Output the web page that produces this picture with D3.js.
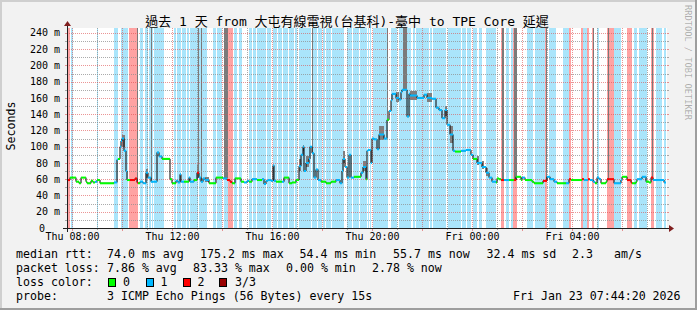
<!DOCTYPE html>
<html>
<head>
<meta charset="utf-8">
<script src="https://cdn.jsdelivr.net/npm/d3@7"></script>
<style>
  body { margin: 0; background: #f2f2f2; }
  svg { display: block; }
  text { font-family: "DejaVu Sans Mono", "Noto Sans CJK TC", monospace; fill: #000; }
</style>
</head>
<body>
<svg id="chart" width="697" height="310"></svg>
<script>
// ---------- data ----------
// one step = one pixel column = 144 s, 600 steps = 24 h
const startTime = new Date(2026, 0, 22, 7, 48, 0);
const stepSec = 144;
const stepCount = 600;
const yMax = 246;

const titleText = "過去 1 天 from 大屯有線電視(台基科)-臺中 to TPE Core 延遲";
const yLabel = "Seconds";
const watermark = "RRDTOOL / TOBI OETIKER";

// [startStep, endStep, lossLevel]  (1 = 1/3 lost, 2 = 2/3 lost)
const lossBands = [
  [0,3,2],[4,6,1],[30,31,1],[47,51,1],[54,61,1],[62,71,2],[73,76,1],[78,81,1],[82,84,1],
  [85,86,1],[87,97,1],[107,109,1],[110,114,1],[115,119,1],[120,122,1],[123,131,1],[132,140,1],
  [146,149,1],[150,155,1],[157,161,1],[161,166,2],[167,170,1],[172,175,1],[182,185,1],
  [186,189,1],[190,199,1],[200,204,1],[206,210,1],[211,215,1],[216,221,1],[222,227,1],
  [228,230,1],[232,244,1],[245,250,1],[251,255,1],[256,258,1],[259,264,1],[265,277,1],
  [280,285,1],[286,292,1],[293,300,1],[301,302,1],[303,304,1],[306,321,1],[324,330,1],
  [332,344,1],[346,348,1],[349,362,1],[363,365,1],[366,379,1],[381,394,1],[395,399,1],
  [400,404,1],[406,410,1],[412,415,1],[419,429,1],[434,437,2],[439,442,1],[444,446,1],
  [446,450,2],[460,466,1],[468,478,1],[478,480,2],[482,489,1],[496,502,1],[502,504,2],
  [514,516,2],[516,520,1],[520,522,2],[525,527,2],[530,532,1],[540,547,2],[547,554,1],
  [560,565,2],[567,570,1],[572,580,1],[584,587,2],[589,595,1],[597,599,1]
];

// median rtt: [startStep, endStep, ms, lossLevel]
const medianRuns = [
  [0,3,59,2],[3,9,62,0],[9,12,57,0],[12,14,55,0],[14,19,62,0],[19,20,57,0],[20,24,55,0],
  [24,26,58,0],[26,28,56,0],[28,30,57,1],[30,33,59,0],[33,47,55,0],[47,50,56,1],[50,51,84,1],
  [51,53,85,0],[53,54,100,1],[54,55,107,1],[55,57,110,1],[57,59,95,1],[59,60,70,1],[60,63,59,0],
  [63,68,59,2],[68,70,61,2],[70,71,56,2],[71,73,55,0],[73,76,57,1],[76,79,55,1],[79,81,68,1],
  [81,84,62,1],[84,86,57,1],[86,90,57,1],[90,92,93,1],[92,95,88,1],[95,103,85,0],[103,105,60,0],
  [105,109,55,0],[109,111,58,1],[111,113,56,1],[113,114,66,1],[114,117,57,1],[117,122,57,0],
  [122,123,62,1],[123,127,57,1],[127,130,59,0],[130,132,68,2],[132,134,62,1],[134,136,57,1],
  [136,138,61,1],[138,142,59,1],[142,149,55,0],[149,156,62,0],[156,160,61,1],[160,163,59,2],
  [163,165,57,2],[165,168,55,0],[168,174,61,0],[174,177,57,0],[177,180,56,1],[180,182,58,1],
  [182,185,57,0],[185,190,60,1],[190,195,59,0],[195,197,60,1],[197,199,54,1],[199,201,58,1],
  [201,204,59,1],[204,206,58,1],[206,207,77,1],[207,209,58,1],[209,215,57,0],[215,217,57,1],
  [217,222,62,0],[222,225,55,0],[225,229,56,0],[229,232,59,0],[232,234,76,1],[234,236,90,1],
  [236,237,100,1],[237,239,70,1],[239,242,80,1],[242,243,85,1],[243,245,100,1],[245,247,92,1],
  [247,249,62,1],[249,251,72,1],[251,254,59,1],[254,259,57,0],[259,264,55,0],[264,269,57,0],
  [269,273,59,1],[273,275,55,1],[275,276,70,1],[276,278,85,1],[278,280,75,1],[280,282,62,1],
  [282,284,90,1],[284,287,62,1],[287,294,63,0],[294,296,68,1],[296,299,75,1],[299,300,60,0],
  [300,301,95,1],[301,304,96,1],[304,305,80,1],[305,307,110,1],[307,310,109,1],[310,312,97,1],
  [312,317,115,1],[317,320,110,1],[320,322,133,0],[322,324,144,1],[324,325,157,1],[325,329,165,1],
  [329,332,160,1],[332,334,158,1],[334,335,167,1],[335,340,170,1],[340,342,137,1],[342,343,165,1],
  [343,350,163,1],[350,357,160,1],[357,360,164,1],[360,365,160,1],[365,369,159,1],[369,372,148,1],
  [372,375,145,1],[375,378,135,1],[378,380,145,1],[380,383,127,1],[383,386,115,1],[386,388,95,1],
  [388,394,94,0],[394,399,95,1],[399,404,96,1],[404,406,90,1],[406,410,85,0],[410,415,80,1],
  [415,419,75,1],[419,422,68,1],[422,425,62,1],[425,429,57,1],[429,430,56,0],[430,432,61,0],
  [432,434,60,0],[434,437,59,2],[437,442,59,1],[442,447,59,0],[447,449,59,2],[449,454,63,0],
  [454,455,59,0],[455,458,62,1],[458,465,59,0],[465,467,57,0],[467,476,55,0],[476,480,58,2],
  [480,483,63,1],[483,487,60,1],[487,490,57,1],[490,499,55,0],[499,502,55,1],[502,504,60,2],
  [504,515,59,0],[515,517,60,2],[517,521,59,1],[521,523,60,2],[523,526,59,1],[526,528,57,1],
  [528,530,55,0],[530,532,62,1],[532,534,60,1],[534,539,55,0],[539,540,57,0],[540,547,60,2],
  [547,554,55,1],[554,555,59,1],[555,560,63,0],[560,564,59,2],[564,565,56,2],[565,569,55,0],
  [569,570,57,0],[570,575,60,1],[575,579,63,1],[579,582,57,0],[582,584,56,0],[584,586,62,2],
  [586,597,59,1],[597,599,56,1]
];

// smoke (spread of the 3 pings): [startStep, endStep, lowMs, highMs]
const smokeRuns = [
  [55,58,100,115],[79,81,62,72],[130,132,62,78],[138,142,57,63],[232,234,70,85],[236,237,95,102],
  [239,242,75,88],[276,278,80,95],[296,299,70,82],[312,317,108,125],[329,332,155,167],
  [343,350,158,168],[360,365,155,166],[378,380,138,150],[383,386,105,125],
  [410,412,78,88],[415,417,72,82],[419,421,64,74]
];

// steps where one ping went off the scale (smoke up to the top)
const spikeRuns = [
  [70,71],[84,85],[131,132],[134,135],[157,161],[245,246],[320,321],[336,340],
  [435,437],[447,450],[479,480],[526,527],[541,542],[585,586]
];

const lossColors = ["#00ff00", "#00b8ff", "#ff0000", "#990000"];
const bandColors = { 1: "#aae5fb", 2: "#ffa3a3" };
const lossLegend = ["0", "1", "2", "3/3"];

const legendRows = [
  [[16, "median rtt:"], [107, "74.0 ms avg"], [200, "175.2 ms max"], [299.5, "54.4 ms min"],
   [393, "55.7 ms now"], [486.5, "32.4 ms sd"], [572, "2.3"], [614, "am/s"]],
  [[16, "packet loss:"], [107, "7.86 % avg"], [193, "83.33 % max"], [286, "0.00 % min"], [372, "2.78 % now"]],
  [[16, "loss color:"]],
  [[16, "probe:"], [107, "3 ICMP Echo Pings (56 Bytes) every 15s"], [513, "Fri Jan 23 07:44:20 2026"]]
];
const lossLegendX = [[108, 123], [146, 160.5], [183, 197.5], [219, 235]];

// ---------- chart ----------
const W = 697, H = 310;
const x0 = 67, x1 = 667, yTop = 28, yBot = 228;
const MGRID = "rgba(222,79,79,0.6)";
const GRID = "rgba(143,143,143,0.75)";

const svg = d3.select("#chart");
const at = i => new Date(+startTime + i * stepSec * 1000);
const endTime = at(stepCount);

const x = d3.scaleTime().domain([startTime, endTime]).range([x0, x1]);
const y = d3.scaleLinear().domain([0, yMax]).range([yBot, yTop]);

// background and 3d frame
svg.append("rect").attr("width", W).attr("height", H).attr("fill", "#f2f2f2");
svg.append("rect").attr("x", 0).attr("y", 0).attr("width", W).attr("height", 2).attr("fill", "#cfcfcf");
svg.append("rect").attr("x", 0).attr("y", 0).attr("width", 2).attr("height", H).attr("fill", "#cfcfcf");
svg.append("rect").attr("x", 0).attr("y", H - 2).attr("width", W).attr("height", 2).attr("fill", "#9e9e9e");
svg.append("rect").attr("x", W - 2).attr("y", 0).attr("width", 2).attr("height", H).attr("fill", "#9e9e9e");

// canvas
svg.append("rect").attr("x", x0).attr("y", yTop).attr("width", x1 - x0).attr("height", yBot - yTop).attr("fill", "#fff");

// loss background bands
svg.append("g").attr("shape-rendering", "crispEdges")
  .selectAll("rect").data(lossBands).join("rect")
  .attr("x", d => x(at(d[0])))
  .attr("width", d => x(at(d[1])) - x(at(d[0])))
  .attr("y", yTop)
  .attr("height", yBot - yTop)
  .attr("fill", d => bandColors[d[2]]);

// smoke
const rttAt = i => {
  const r = medianRuns.find(m => i >= m[0] && i < m[1]);
  return r ? r[2] : 60;
};
const smoke = svg.append("g").attr("shape-rendering", "crispEdges");
smoke.selectAll("rect.s").data(smokeRuns).join("rect").attr("class", "s")
  .attr("x", d => x(at(d[0])))
  .attr("width", d => x(at(d[1])) - x(at(d[0])))
  .attr("y", d => y(d[3]))
  .attr("height", d => y(d[2]) - y(d[3]))
  .attr("fill", "#7f7f7f");
smoke.selectAll("rect.k").data(spikeRuns).join("rect").attr("class", "k")
  .attr("x", d => x(at(d[0])))
  .attr("width", d => x(at(d[1])) - x(at(d[0])))
  .attr("y", yTop)
  .attr("height", d => y(rttAt(d[0])) - yTop)
  .attr("fill", "#7a7a7a");

// grid
const grid = svg.append("g").attr("shape-rendering", "crispEdges").attr("stroke-width", 1);
const hours = d3.timeHour.range(startTime, endTime);
hours.forEach(h => {
  const px = Math.round(x(h)) + 0.5;
  const major = h.getHours() % 2 === 0;
  const col = major ? MGRID : GRID;
  grid.append("line").attr("x1", px).attr("x2", px).attr("y1", yTop).attr("y2", yBot)
    .attr("stroke", col).attr("stroke-dasharray", "1,1");
  grid.append("line").attr("x1", px).attr("x2", px).attr("y1", yBot).attr("y2", yBot + (major ? 3 : 2))
    .attr("stroke", col);
});
d3.range(10, yMax, 10).forEach(v => {
  const py = Math.round(y(v)) + 0.5;
  const major = v % 20 === 0;
  const col = major ? MGRID : GRID;
  grid.append("line").attr("x1", x0).attr("x2", x1).attr("y1", py).attr("y2", py)
    .attr("stroke", col).attr("stroke-dasharray", "1,1");
  grid.append("line").attr("x1", x0 - 2).attr("x2", x0).attr("y1", py).attr("y2", py).attr("stroke", col);
  grid.append("line").attr("x1", x1).attr("x2", x1 + 2).attr("y1", py).attr("y2", py).attr("stroke", col);
});

// median line: thin black steps, then coloured level segments
const pts = medianRuns.map(d => [x(at(d[0])), y(d[2])]);
const last = medianRuns[medianRuns.length - 1];
pts.push([x(at(last[1])), y(last[2])]);
svg.append("path")
  .attr("d", d3.line().curve(d3.curveStepAfter)(pts))
  .attr("fill", "none").attr("stroke", "#000").attr("stroke-width", 1);
svg.append("g").selectAll("line").data(medianRuns).join("line")
  .attr("x1", d => x(at(d[0])))
  .attr("x2", d => x(at(d[1])))
  .attr("y1", d => y(d[2]))
  .attr("y2", d => y(d[2]))
  .attr("stroke", d => lossColors[d[3]])
  .attr("stroke-width", 2);

// axes
const axis = svg.append("g").attr("shape-rendering", "crispEdges");
axis.append("line").attr("x1", x0 - 4).attr("x2", x1 + 4).attr("y1", yBot + 0.5).attr("y2", yBot + 0.5)
  .attr("stroke", "#1f1f1f");
axis.append("line").attr("x1", x0 + 0.5).attr("x2", x0 + 0.5).attr("y1", yBot + 4).attr("y2", yTop - 4)
  .attr("stroke", "#1f1f1f");
svg.append("path")
  .attr("d", `M${x1 + 2},${yBot - 3}L${x1 + 2},${yBot + 4}L${x1 + 7},${yBot + 0.5}Z`)
  .attr("fill", "#801f1f");
svg.append("path")
  .attr("d", `M${x0 - 3},${yTop - 2}L${x0 + 4},${yTop - 2}L${x0 + 0.5},${yTop - 7}Z`)
  .attr("fill", "#801f1f");

// tick labels
const yTickVals = d3.range(0, yMax, 20);
svg.append("g").selectAll("text").data(yTickVals).join("text")
  .attr("x", d => d === 0 ? 45 : x0 - 7)
  .attr("y", d => y(d) + 3.6)
  .attr("text-anchor", "end")
  .attr("font-size", 10)
  .text(d => d === 0 ? "0" : d + " m");

const xTickVals = d3.timeHour.every(4).range(startTime, endTime);
const fmt = d3.timeFormat("%a %H:%M");
svg.append("g").selectAll("text").data(xTickVals).join("text")
  .attr("x", d => x(d) + 0.5)
  .attr("y", 240)
  .attr("text-anchor", "middle")
  .attr("font-size", 10)
  .text(d => fmt(d));

// title, axis label, watermark
svg.append("text").attr("x", 347).attr("y", 26).attr("text-anchor", "middle")
  .attr("font-size", 13).text(titleText);
svg.append("text").attr("transform", "translate(15,126) rotate(-90)")
  .attr("text-anchor", "middle").attr("font-size", 11.6).text(yLabel);
svg.append("text").attr("transform", "translate(685,5) rotate(90)")
  .attr("font-size", 8.7).style("fill", "rgba(0,0,0,0.3)").text(watermark);

// legend
const legendBase = [258, 272, 286, 300];
legendRows.forEach((row, r) => {
  row.forEach(([lx, str]) => {
    svg.append("text").attr("x", lx).attr("y", legendBase[r])
      .attr("font-size", 11.6).attr("xml:space", "preserve").text(str);
  });
});
lossLegendX.forEach(([bx, tx], i) => {
  svg.append("rect").attr("x", bx + 0.5).attr("y", 278.5).attr("width", 7).attr("height", 8)
    .attr("fill", lossColors[i]).attr("stroke", "#000").attr("stroke-width", 1);
  svg.append("text").attr("x", tx).attr("y", 286).attr("font-size", 11.6).text(lossLegend[i]);
});
</script>
</body>
</html>
